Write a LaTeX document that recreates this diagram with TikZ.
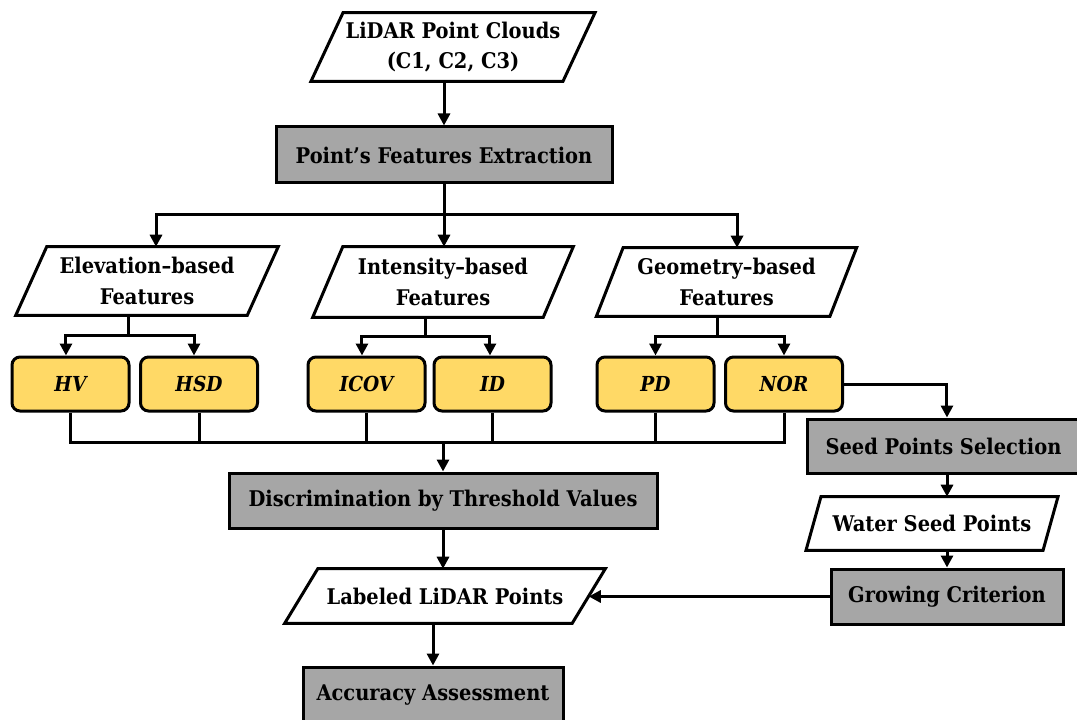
\documentclass[tikz,border=0pt]{standalone}
\usepackage{fontspec}
\setmainfont{DejaVu Serif}[FakeStretch=0.9]
\usetikzlibrary{arrows.meta}
\definecolor{boxgray}{HTML}{A6A6A6}
\definecolor{boxyellow}{HTML}{FFD966}
\newcommand{\paral}[2]{\draw[para] ([xshift=#2]#1.north west) -- ([xshift=#2]#1.north east) -- ([xshift=-#2]#1.south east) -- ([xshift=-#2]#1.south west) -- cycle;}
\begin{document}
\begin{tikzpicture}[x=0.75pt,y=-0.75pt,
  every node/.style={font=\fontsize{16.2}{23}\selectfont\bfseries},
  procbox/.style={draw, line width=2.25pt, fill=boxgray, inner sep=0pt},
  featbox/.style={draw, line width=2.25pt, fill=boxyellow, rounded corners=6pt, inner sep=0pt,
    minimum width=87.75pt, minimum height=40.5pt, font=\fontsize{15.5}{22}\selectfont\bfseries\itshape},
  ptext/.style={inner sep=0pt, align=center},
  para/.style={line width=2.25pt, draw, line join=miter},
  conn/.style={line width=2.25pt},
  arr/.style={conn, -{Triangle[width=9pt,length=9pt]}}]
\useasboundingbox (0,0) rectangle (1077,720);

% parallelogram nodes
\node[ptext, minimum width=188.6pt, minimum height=51pt] (lidar) at (453,47) {LiDAR Point Clouds\\(C1, C2, C3)};
\paral{lidar}{12pt}
\node[ptext, minimum width=173.25pt, minimum height=51pt] (elev) at (147,281) {Elevation–based\\Features};
\paral{elev}{11.6pt}
\node[ptext, minimum width=172.5pt, minimum height=52.5pt] (intens) at (443,282) {Intensity–based\\Features};
\paral{intens}{11.25pt}
\node[ptext, minimum width=174.75pt, minimum height=51pt] (geom) at (726.5,282) {Geometry–based\\Features};
\paral{geom}{10pt}
\node[ptext, minimum width=215.25pt, minimum height=40.5pt] (lab) at (445,596) {Labeled LiDAR Points};
\paral{lab}{12.4pt}
\node[ptext, minimum width=177.4pt, minimum height=39.75pt] (water) at (932,523.5) {Water Seed Points};
\paral{water}{5.6pt}

% process boxes
\node[procbox, minimum width=252pt, minimum height=42pt] (extract) at (444,155) {Point’s Features Extraction};
\node[procbox, minimum width=321pt, minimum height=41.25pt] (discr) at (443,500.5) {Discrimination by Threshold Values};
\node[procbox, minimum width=195pt, minimum height=42pt] (acc) at (433,695) {Accuracy Assessment};
\node[procbox, minimum width=204.75pt, minimum height=40.5pt] (seed) at (943.5,446) {Seed Points Selection};
\node[procbox, minimum width=174pt, minimum height=41.25pt] (grow) at (947,596.5) {Growing Criterion};

% feature boxes
\node[featbox] (hv) at (70.5,384) {HV};
\node[featbox] (hsd) at (199,384) {HSD};
\node[featbox] (icov) at (366.5,384) {ICOV};
\node[featbox] (id) at (492.5,384) {ID};
\node[featbox] (pd) at (655.5,384) {PD};
\node[featbox] (nor) at (784,384) {NOR};

% connectors
\draw[arr] (lidar.south -| extract.north) -- (extract.north);
\draw[conn] (extract.south) -- ++(0,30) coordinate (s1);
\draw[arr] (s1) -| ([xshift=6.75pt]elev.north);
\draw[arr] (s1) -- (s1 |- intens.north);
\draw[arr] (s1) -| ([xshift=7.9pt]geom.north);

\draw[conn] ([xshift=-14.25pt]elev.south) -- ++(0,20) coordinate (s2);
\draw[arr] (s2) -| ([xshift=-3.4pt]hv.north);
\draw[arr] (s2) -| ([xshift=-3.75pt]hsd.north);
\draw[conn] ([xshift=-13.5pt]intens.south) -- ++(0,19) coordinate (s3);
\draw[arr] (s3) -| ([xshift=-3.4pt]icov.north);
\draw[arr] (s3) -| ([xshift=-1.9pt]id.north);
\draw[conn] ([xshift=-6.4pt]geom.south) -- ++(0,20) coordinate (s4);
\draw[arr] (s4) -| (pd.north);
\draw[arr] (s4) -| (nor.north);

\draw[conn] (hv.south) -- ++(0,30) coordinate (m1) -- (m1 -| nor.south) -- (nor.south);
\draw[conn] (hsd.south) -- (hsd.south |- m1);
\draw[conn] (icov.south) -- (icov.south |- m1);
\draw[conn] (id.south) -- (id.south |- m1);
\draw[conn] (pd.south) -- (pd.south |- m1);
\draw[arr] (m1 -| discr.north) -- (discr.north);

\draw[arr] (discr.south) -- (discr.south |- lab.north);
\draw[arr] (lab.south -| acc.north) -- (acc.north);

\draw[arr] (nor.east) -| ([xshift=2.6pt]seed.north);
\draw[arr] (seed.south -| grow.north) -- (water.north -| grow.north);
\draw[arr] (water.south -| grow.north) -- (grow.north);
\draw[arr] (grow.west) -- (grow.west -| lab.east);
\end{tikzpicture}
\end{document}
